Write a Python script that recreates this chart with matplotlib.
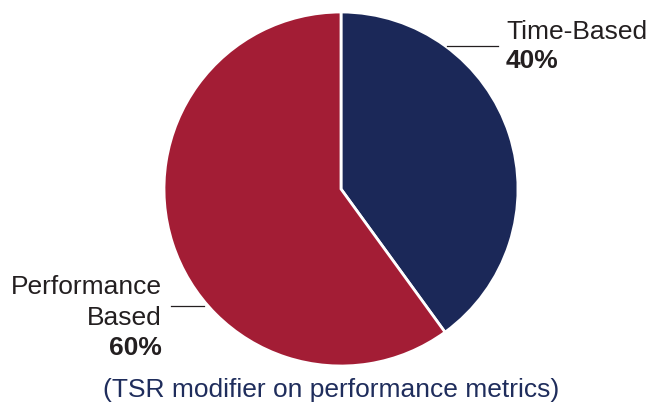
import matplotlib
matplotlib.use("Agg")
import matplotlib.pyplot as plt

# data
labels = ["Time-Based", "Performance\nBased"]
shares = [40, 60]
colors = ["#1b2858", "#a31d35"]
caption = "(TSR modifier on performance metrics)"

W, H = 653, 403
plt.rcParams['font.family'] = ['Liberation Sans', 'DejaVu Sans']

fig = plt.figure(figsize=(W / 100, H / 100), dpi=100)
ax = fig.add_axes([0, 0, 1, 1])

# pie centre/radius in pixel units (y measured from bottom)
cx, cy, r = 341, H - 189, 177
ax.pie(shares, colors=colors, startangle=90, counterclock=False,
       center=(cx, cy), radius=r, frame=True,
       wedgeprops=dict(edgecolor="white", linewidth=2))
ax.set_xlim(0, W)
ax.set_ylim(0, H)
ax.set_aspect("equal")
ax.axis("off")

fs = 19
txt = "#231f20"
# Time-Based label
ax.plot([447, 498], [H - 46, H - 46], color=txt, lw=0.9)
ax.text(506, H - 39, labels[0], fontsize=fs, color=txt, ha="left", va="baseline")
ax.text(506, H - 68, f"{shares[0]}%", fontsize=fs, fontweight="bold",
        color=txt, ha="left", va="baseline")

# Performance Based label
ax.plot([171, 204], [H - 306, H - 306], color=txt, lw=0.9)
ax.text(162, H - 294, labels[1].split("\n")[0], fontsize=fs, color=txt,
        ha="right", va="baseline")
ax.text(162, H - 325, labels[1].split("\n")[1], fontsize=fs, color=txt,
        ha="right", va="baseline")
ax.text(162, H - 355, f"{shares[1]}%", fontsize=fs, fontweight="bold",
        color=txt, ha="right", va="baseline")

ax.text(331, H - 397, caption, fontsize=fs, color="#1f2d5c",
        ha="center", va="baseline")

fig.savefig("out.png", dpi=100)
